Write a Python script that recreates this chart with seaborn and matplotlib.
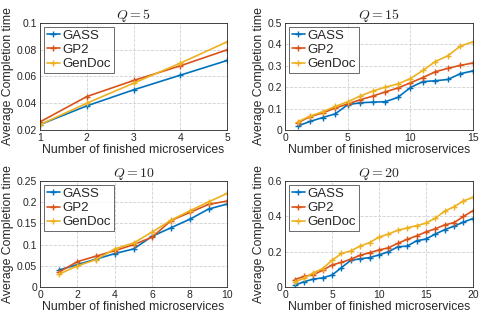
import numpy as np
import pandas as pd
import matplotlib
matplotlib.use("Agg")
import matplotlib.pyplot as plt
import seaborn as sns
from matplotlib.ticker import FormatStrFormatter, MultipleLocator

# values
methods = ['GASS', 'GP2', 'GenDoc']
colors = ['#0072BD', '#D95319', '#EDB120']

q5_x = [1, 2, 3, 4, 5]
q5_gass = [0.024, 0.038, 0.050, 0.061, 0.072]
q5_gp2 = [0.026, 0.045, 0.057, 0.068, 0.080]
q5_gendoc = [0.024, 0.040, 0.055, 0.070, 0.086]

q15_x = list(range(1, 16))
q15_gass = [0.018, 0.040, 0.058, 0.075, 0.118, 0.127, 0.130, 0.132, 0.152, 0.198,
            0.226, 0.230, 0.236, 0.263, 0.276]
q15_gp2 = [0.034, 0.062, 0.080, 0.102, 0.122, 0.141, 0.158, 0.178, 0.196, 0.220,
           0.245, 0.272, 0.288, 0.302, 0.313]
q15_gendoc = [0.038, 0.065, 0.085, 0.110, 0.132, 0.158, 0.182, 0.200, 0.215, 0.240,
              0.278, 0.320, 0.347, 0.392, 0.412]

q10_x = list(range(1, 11))
q10_gass = [0.040, 0.053, 0.066, 0.079, 0.090, 0.120, 0.140, 0.160, 0.184, 0.196]
q10_gp2 = [0.035, 0.060, 0.073, 0.086, 0.100, 0.118, 0.157, 0.176, 0.195, 0.203]
q10_gendoc = [0.030, 0.050, 0.065, 0.090, 0.104, 0.130, 0.158, 0.180, 0.201, 0.221]

q20_x = list(range(1, 21))
q20_gass = [0.010, 0.030, 0.045, 0.052, 0.068, 0.110, 0.152, 0.160, 0.167, 0.182,
            0.200, 0.228, 0.232, 0.262, 0.272, 0.300, 0.325, 0.345, 0.368, 0.388]
q20_gp2 = [0.042, 0.060, 0.070, 0.095, 0.125, 0.140, 0.158, 0.180, 0.195, 0.210,
           0.222, 0.248, 0.270, 0.290, 0.312, 0.330, 0.352, 0.365, 0.400, 0.432]
q20_gendoc = [0.028, 0.050, 0.080, 0.105, 0.152, 0.190, 0.205, 0.232, 0.252, 0.283,
              0.300, 0.322, 0.335, 0.348, 0.362, 0.390, 0.430, 0.455, 0.488, 0.508]

panels = [
    # title, x, series, xlim, xstep, ylim, ystep, axes rect
    ('$Q=5$', q5_x, [q5_gass, q5_gp2, q5_gendoc], (1, 5), 1, (0.02, 0.1), 0.02,
     [0.0825, 0.594, 0.386, 0.334]),
    ('$Q=15$', q15_x, [q15_gass, q15_gp2, q15_gendoc], (0, 15), 5, (0, 0.5), 0.1,
     [0.588, 0.594, 0.387, 0.334]),
    ('$Q=10$', q10_x, [q10_gass, q10_gp2, q10_gendoc], (0, 10), 2, (0, 0.25), 0.05,
     [0.0825, 0.103, 0.386, 0.331]),
    ('$Q=20$', q20_x, [q20_gass, q20_gp2, q20_gendoc], (0, 20), 5, (0, 0.6), 0.2,
     [0.588, 0.103, 0.387, 0.331]),
]

sns.set_style('whitegrid')
plt.rcParams['font.family'] = ['Liberation Sans', 'DejaVu Sans']
plt.rcParams['mathtext.fontset'] = 'cm'

fig = plt.figure(figsize=(4.85, 3.2), dpi=100)

for title, x, series, xlim, xstep, ylim, ystep, rect in panels:
    ax = fig.add_axes(rect)
    df = pd.concat([pd.DataFrame({'x': x, 'y': s, 'method': m})
                    for s, m in zip(series, methods)])
    sns.lineplot(data=df, x='x', y='y', hue='method', palette=colors,
                 marker='+', markersize=4, linewidth=1.2, ax=ax)
    # seaborn gives markers a white edge; '+' needs the line colour
    for ln in ax.get_lines():
        ln.set_markeredgecolor(ln.get_color())
        ln.set_markeredgewidth(1.0)
    ax.set_xlim(*xlim)
    ax.set_ylim(*ylim)
    ax.xaxis.set_major_locator(MultipleLocator(xstep))
    ax.yaxis.set_major_locator(MultipleLocator(ystep))
    ax.yaxis.set_major_formatter(FormatStrFormatter('%g'))
    ax.set_title(title, fontsize=10, pad=3)
    ax.set_xlabel('Number of finished microservices', fontsize=8.8, labelpad=1, color='#262626')
    ax.set_ylabel('Average Completion time', fontsize=8.8, labelpad=2, color='#262626')
    ax.tick_params(labelsize=7.5, colors='#262626', length=2, pad=2, direction='in')
    ax.grid(True, linestyle='--', color='#d0d0d0', linewidth=0.6)
    for sp in ax.spines.values():
        sp.set_color('#262626')
        sp.set_linewidth(0.6)
    leg = ax.legend(loc='upper left', fontsize=9.5, frameon=True, fancybox=False,
                    borderpad=0.2, labelspacing=0.15, handlelength=1.0,
                    handletextpad=0.2, borderaxespad=0.3, title=None)
    leg.get_frame().set_edgecolor('#262626')
    leg.get_frame().set_linewidth(0.6)
    for ln in leg.get_lines():
        ln.set_markeredgecolor(ln.get_color())

fig.savefig('out.png', dpi=100)
